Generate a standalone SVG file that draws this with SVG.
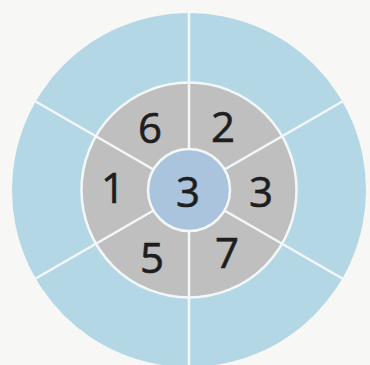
<svg xmlns="http://www.w3.org/2000/svg" width="370" height="365" viewBox="0 0 370 365">
<style>
.num{font-family:"Open Sans","DejaVu Sans",sans-serif;font-size:42px;fill:#1e1e1e;text-anchor:middle;stroke:#1e1e1e;stroke-width:0.6}
.div{stroke:#f4f7f8;stroke-width:2.5;fill:none}
</style>
<rect width="370" height="365" fill="#f7f7f5"/>
<g id="outer-ring"><circle cx="189" cy="190" r="177" fill="#b4d7e6"/></g>
<g id="inner-ring"><circle cx="189" cy="190" r="107.5" fill="#bfbfbf" stroke="#f4f7f8" stroke-width="2.5"/></g>
<g id="connectors">
<line class="div" x1="189" y1="0" x2="189" y2="149"/>
<line class="div" x1="189" y1="231" x2="189" y2="365"/>
<line class="div" x1="342.3" y1="101.5" x2="224.5" y2="169.5"/>
<line class="div" x1="342.3" y1="278.5" x2="224.5" y2="210.5"/>
<line class="div" x1="35.7" y1="101.5" x2="153.5" y2="169.5"/>
<line class="div" x1="35.7" y1="278.5" x2="153.5" y2="210.5"/>
</g>
<g id="center"><circle cx="189" cy="190" r="41" fill="#a9c4dc" stroke="#f4f7f8" stroke-width="2.5"/><text class="num" x="188" y="207">3</text></g>
<g id="s-6"><text class="num" x="150" y="143">6</text></g>
<g id="s-2"><text class="num" x="223" y="142">2</text></g>
<g id="s-3"><text class="num" x="261" y="207">3</text></g>
<g id="s-7"><text class="num" x="227" y="268">7</text></g>
<g id="s-5"><text class="num" x="152" y="273">5</text></g>
<g id="s-1"><text class="num" x="113" y="203">1</text></g>
</svg>
